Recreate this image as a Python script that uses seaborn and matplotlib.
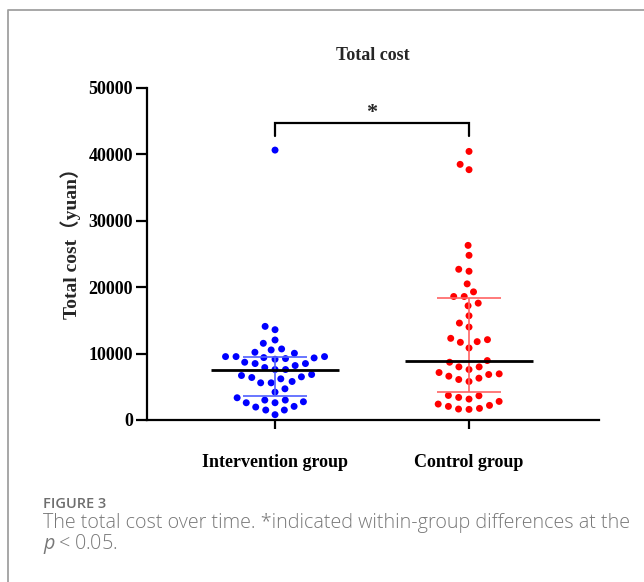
import numpy as np
import pandas as pd
import matplotlib
matplotlib.use("Agg")
import matplotlib.pyplot as plt
from matplotlib.lines import Line2D
import seaborn as sns

# ---- data ----
categories = ["Intervention group", "Control group"]
intervention_cost = [40650, 14100, 13600, 12050, 11550, 10550, 10700, 10200, 10050,
                     9550, 9150, 9350, 9550, 9550, 9400, 9250, 8500, 8500, 8700,
                     7900, 7600, 7600, 8200, 6500, 6850, 6700, 6200, 6400, 5600,
                     5600, 5800, 4700, 4200, 3000, 2750, 3350, 3000, 1950, 2600,
                     2600, 2050, 1500, 1500, 800]
control_cost = [40450, 38500, 37700, 26300, 24800, 22700, 22400, 20500, 19300,
                18600, 18600, 17600, 17200, 15700, 14600, 14000, 11800, 11700,
                12300, 12100, 10850, 8950, 8700, 8000, 8000, 7600, 7150, 6600,
                6950, 6850, 6100, 6300, 5800, 3700, 3650, 3400, 3150, 2800, 2400,
                2200, 2050, 1650, 1750, 1600]
medians = [7600, 8850]
q1_values = [3600, 4270]
q3_values = [9550, 18300]
yticks = [0, 10000, 20000, 30000, 40000, 50000]
point_colors = ["#0000FF", "#FF0000"]
bar_colors = ["#4F5FFF", "#FF6464"]

df = pd.DataFrame({
    "group": [categories[0]] * len(intervention_cost) + [categories[1]] * len(control_cost),
    "cost": intervention_cost + control_cost,
})

sns.set_style("ticks")
serif = ["Liberation Serif", "Noto Sans CJK SC", "DejaVu Sans"]
plt.rcParams["font.family"] = serif
plt.rcParams["mathtext.fontset"] = "custom"
plt.rcParams["mathtext.it"] = "Open Sans:italic"
plt.rcParams["mathtext.rm"] = "Open Sans"

fig = plt.figure(figsize=(6.44, 5.82), dpi=100)
ax = fig.add_axes([147 / 644, 1 - 420 / 582, 452 / 644, 332 / 582])

sns.swarmplot(data=df, x="group", y="cost", hue="group", order=categories,
              hue_order=categories, palette=point_colors, size=5.0,
              linewidth=2.2, edgecolor="none", legend=False, ax=ax,
              clip_on=False, zorder=2)

xs = np.arange(len(categories))
for i in xs:
    ax.errorbar([i], [medians[i]],
                yerr=[[medians[i] - q1_values[i]], [q3_values[i] - medians[i]]],
                fmt="none", ecolor=bar_colors[i], elinewidth=1.2, capsize=23,
                capthick=1.2, zorder=3)
ax.hlines(medians, xs - 0.33, xs + 0.33, colors="black", linewidth=2.0, zorder=4)

# significance bracket
ax.plot([0, 0, 1, 1], [42800, 44750, 44750, 42800], color="black", lw=1.6,
        clip_on=False, solid_joinstyle="miter")
ax.text(0.5, 45500, "*", ha="center", va="baseline", fontsize=16,
        fontweight="bold", family=serif)

ax.set_xlim(-0.66, 1.67)
ax.set_ylim(0, 50000)
ax.set_yticks(yticks)
ax.set_yticklabels([str(v) for v in yticks])
ax.set_xlabel("")
ax.set_ylabel("Total cost（yuan）", fontsize=14, fontweight="bold", family=serif)
ax.yaxis.set_label_coords(-0.146, 0.545)

sns.despine(ax=ax)
for s in ["left", "bottom"]:
    ax.spines[s].set_linewidth(1.6)
    ax.spines[s].set_color("black")
ax.tick_params(axis="y", length=8, width=1.6, pad=2, labelsize=13, colors="black")
ax.tick_params(axis="x", length=6.5, width=1.6, pad=18, labelsize=13, colors="black")
for lab in ax.get_xticklabels() + ax.get_yticklabels():
    lab.set_fontweight("bold")
    lab.set_family(serif)

fig.text(373 / 644, 1 - 60 / 582, "Total cost", ha="center", va="baseline",
         fontsize=13, fontweight="bold", family=serif)

# frame and caption
fig.add_artist(Line2D([7.5 / 644, 7.5 / 644, 1.0], [0.0, 1 - 9.5 / 582, 1 - 9.5 / 582],
                      transform=fig.transFigure, color="#A0A0A0", lw=1.3))
fig.text(43 / 644, 1 - 508 / 582, "FIGURE 3", family="Open Sans", fontsize=10.5,
         fontweight="semibold", color="#6E6E6E", va="baseline")
fig.text(43 / 644, 1 - 528 / 582,
         "The total cost over time. *indicated within-group differences at the",
         family="Open Sans", fontsize=14.2, fontweight="light", color="#787878",
         va="baseline")
fig.text(43 / 644, 1 - 549 / 582, r"$p$" + "\u2009<\u20090.05.", family=["Open Sans", "DejaVu Sans"],
         fontsize=14.2, fontweight="light", color="#787878", va="baseline")

fig.savefig("out.png", dpi=100)
